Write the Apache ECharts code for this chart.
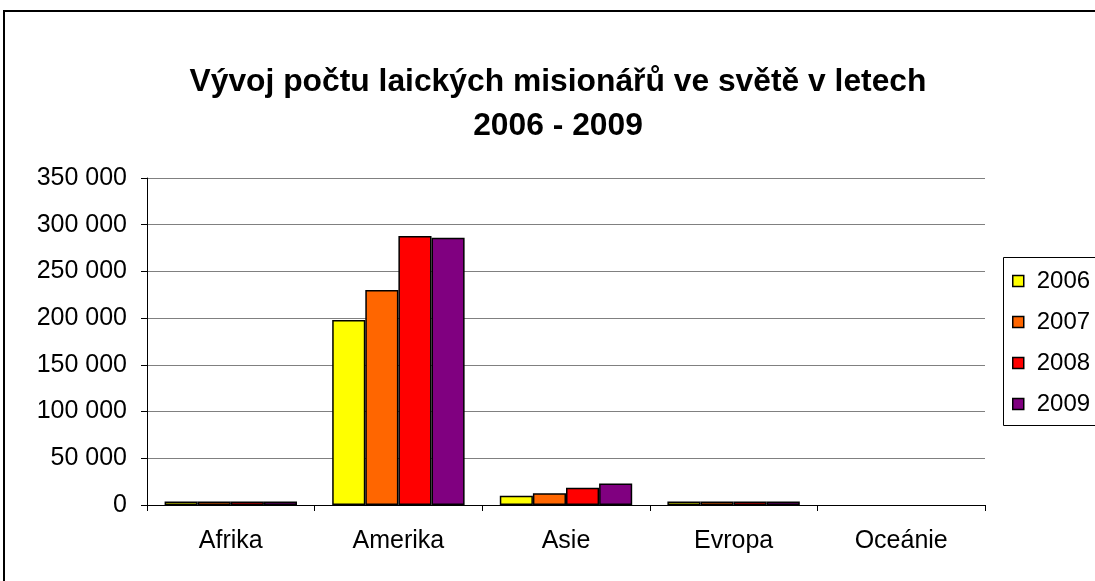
<!DOCTYPE html>
<html>
<head>
<meta charset="utf-8">
<script src="https://cdn.jsdelivr.net/npm/echarts@6/dist/echarts.min.js"></script>
<style>
html, body { margin: 0; padding: 0; background: #fff; }
#main { width: 1095px; height: 581px; }
</style>
</head>
<body>
<div id="main"></div>
<script>
// data
var regions = ['Afrika', 'Amerika', 'Asie', 'Evropa', 'Oceánie'];
var years = ['2006', '2007', '2008', '2009'];
var y2006 = [3800, 198000, 10000, 3800, 0];
var y2007 = [3800, 230000, 12500, 3800, 0];
var y2008 = [3800, 288000, 18500, 3800, 0];
var y2009 = [3800, 286000, 23000, 3800, 0];
var colors = ['#ffff00', '#ff6600', '#ff0000', '#800080'];

var allData = [y2006, y2007, y2008, y2009];

function fmt(v) {
    var s = String(v);
    return s.replace(/\B(?=(\d{3})+(?!\d))/g, ' ');
}

var myChart = echarts.init(document.getElementById('main'));

var series = [];
for (let i = 0; i < years.length; i++) {
    series.push({
        name: years[i],
        type: 'bar',
        // zero values are not drawn at all (no outline)
        data: allData[i].map(v => v === 0 ? '-' : v),
        barGap: '0%',
        barCategoryGap: '21%',
        itemStyle: {
            color: colors[i],
            borderColor: '#000',
            borderWidth: 1.5
        }
    });
}

let option = {
    animation: false,
    textStyle: { fontFamily: 'Liberation Sans, Arial, sans-serif' },
    title: {
        text: 'Vývoj počtu laických misionářů ve světě v letech\n2006 - 2009',
        left: 553,
        textAlign: 'center',
        top: 55,
        textStyle: {
            fontSize: 31.8,
            fontWeight: 'bold',
            color: '#000',
            lineHeight: 44,
            fontFamily: 'Liberation Sans, Arial, sans-serif'
        }
    },
    graphic: [
        {
            type: 'rect',
            shape: { x: 4, y: 11, width: 1100, height: 600 },
            style: { fill: 'none', stroke: '#000', lineWidth: 2 }
        },
        {
            type: 'rect',
            shape: { x: 1003.5, y: 257.5, width: 100, height: 168 },
            style: { fill: 'none', stroke: '#000', lineWidth: 1 }
        }
    ],
    legend: {
        data: years,
        orient: 'vertical',
        left: 1012,
        top: 269,
        padding: 0,
        itemWidth: 11,
        itemHeight: 11,
        itemGap: 17,
        icon: 'rect',
        itemStyle: { borderColor: '#000', borderWidth: 1.5 },
        textStyle: { fontSize: 24, color: '#000', padding: [0, 0, 0, 8] }
    },
    grid: {
        left: 147,
        right: 110,
        top: 178,
        bottom: 76
    },
    xAxis: {
        type: 'category',
        data: regions,
        axisLine: { lineStyle: { color: '#000', width: 1 } },
        axisTick: { show: true, length: 6, lineStyle: { color: '#000' } },
        axisLabel: { fontSize: 25, color: '#000', margin: 24 }
    },
    yAxis: {
        type: 'value',
        min: 0,
        max: 350000,
        interval: 50000,
        axisLine: { show: true, lineStyle: { color: '#000', width: 1 } },
        axisTick: { show: true, length: 6, lineStyle: { color: '#000' } },
        axisLabel: { fontSize: 25, color: '#000', margin: 20, formatter: fmt },
        splitLine: { lineStyle: { color: '#808080', width: 1 } }
    },
    series: series
};
myChart.setOption(option);
</script>
</body>
</html>
